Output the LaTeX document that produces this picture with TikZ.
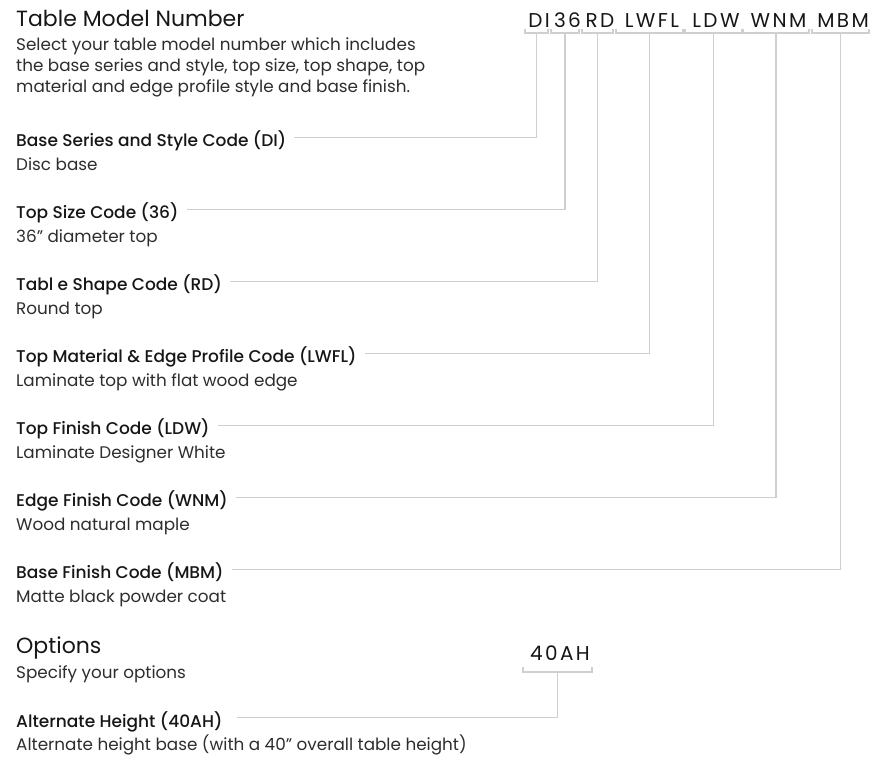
\documentclass[tikz,border=0pt]{standalone}
\usepackage{fontspec}
\setmainfont{Poppins}[BoldFont={* Medium}]
\usetikzlibrary{calc}
\definecolor{ink}{HTML}{161616}
\definecolor{guidegray}{HTML}{CFCFCF}
\tikzset{
  head/.style={anchor=base west,inner sep=0,font=\fontsize{22}{26}\selectfont,text=ink},
  lbl/.style={anchor=base west,inner sep=0,font=\fontsize{17}{21}\selectfont\bfseries,text=ink},
  desc/.style={anchor=base west,inner sep=0,align=left,font=\fontsize{16.8}{21}\selectfont,text=ink!90},
  code/.style={anchor=base,inner sep=0,xshift=2.5pt,font=\fontsize{20}{24}\selectfont\addfontfeature{LetterSpace=12},text=ink},
  guide/.style={draw=guidegray,line width=1.2pt},
}
\begin{document}
\begin{tikzpicture}[x=1pt,y=-1pt]
  \useasboundingbox (0,0) rectangle (873,766);

  % model number
  \node[head] (title) at (16,26) {Table Model Number};
  \node[desc] (intro) at (16,92) {Select your table model number which includes\\the base series and style, top size, top shape, top\\material and edge profile style and base finish.};

  \foreach \lab/\txt [count=\i from 0] in {
      Base Series and Style Code (DI)/Disc base,
      Top Size Code (36)/36" diameter top,
      Tabl e Shape Code (RD)/Round top,
      Top Material \& Edge Profile Code (LWFL)/Laminate top with flat wood edge,
      Top Finish Code (LDW)/Laminate Designer White,
      Edge Finish Code (WNM)/Wood natural maple,
      Base Finish Code (MBM)/Matte black powder coat}{
    \node[lbl] (lab\i) at (16,146+72*\i) {\lab};
    \node[desc] (txt\i) at (16,170+72*\i) {\txt};
  }

  \foreach \c/\a/\b [count=\i from 0] in {DI/525/548,36/551/579,RD/582/613,LWFL/616/683,LDW/685/742,WNM/743/809,MBM/812/869}{
    \node[code] (code\i) at ({(\a+\b)/2},27) {\c};
    \coordinate (br\i) at ({(\a+\b)/2},33);
    \draw[guide] (\a,29) |- (\b,33) -- (\b,29);
    \draw[guide] (br\i) |- ($(lab\i.base east)+(8,-8.5)$);
  }

  % options
  \node[head] (opt) at (16,653) {Options};
  \node[desc] (opttxt) at (16,678) {Specify your options};
  \node[lbl] (alt) at (16,727) {Alternate Height (40AH)};
  \node[desc] (alttxt) at (16,750) {Alternate height base (with a 40" overall table height)};
  \node[code] (optcode) at (557.5,660) {40AH};
  \coordinate (optbr) at (557.5,672);
  \draw[guide] (523,667) |- (592,672) -- (592,667);
  \draw[guide] (optbr) |- ($(alt.base east)+(14,-9.5)$);
\end{tikzpicture}
\end{document}
